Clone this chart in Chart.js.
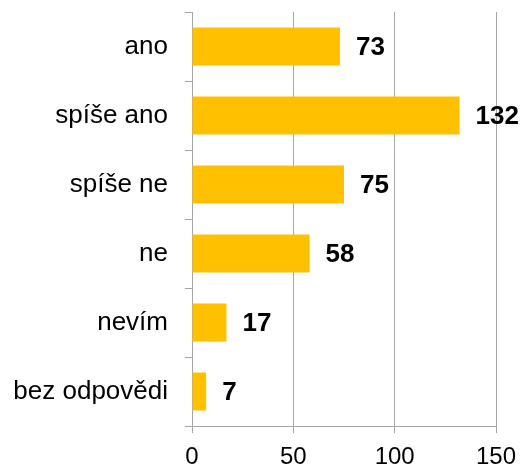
<!DOCTYPE html>
<html>
<head>
<meta charset="utf-8">
<script src="https://cdn.jsdelivr.net/npm/chart.js@4/dist/chart.umd.min.js"></script>
<style>
  html, body { margin: 0; padding: 0; background: #fff; }
  #wrap { width: 522px; height: 470px; position: relative; }
</style>
</head>
<body>
<div id="wrap"><canvas id="c"></canvas></div>
<script>
const categories = ['ano', 'spíše ano', 'spíše ne', 'ne', 'nevím', 'bez odpovědi'];
const counts = [73, 132, 75, 58, 17, 7];
const xTicks = [0, 50, 100, 150];

const barColor = '#FFC000';
const gridColor = '#a6a6a6';
const fontFam = '"Liberation Sans", Arial, sans-serif';

// value labels next to each bar
const valueLabels = {
    id: 'valueLabels',
    afterDatasetsDraw(chart) {
        const ctx = chart.ctx;
        const meta = chart.getDatasetMeta(0);
        ctx.save();
        ctx.font = 'bold 26px ' + fontFam;
        ctx.fillStyle = '#000';
        ctx.textBaseline = 'middle';
        ctx.textAlign = 'left';
        meta.data.forEach((bar, i) => {
            ctx.fillText(String(counts[i]), bar.x + 16, bar.y + 1);
        });
        ctx.restore();
    }
};

new Chart(document.getElementById('c'), {
    type: 'bar',
    data: {
        labels: categories,
        datasets: [{
            data: counts,
            backgroundColor: barColor,
            borderWidth: 0,
            barPercentage: 0.55,
            categoryPercentage: 1,
        }]
    },
    options: {
        indexAxis: 'y',
        responsive: true,
        maintainAspectRatio: false,
        animation: false,
        layout: { padding: { top: 12, right: 26, left: 0, bottom: 0 } },
        plugins: { legend: { display: false }, tooltip: { enabled: false } },
        scales: {
            x: {
                min: 0, max: 150,
                afterBuildTicks: s => { s.ticks = xTicks.map(v => ({ value: v })); },
                grid: { color: gridColor, lineWidth: 1, tickLength: 7 },
                border: { color: gridColor },
                ticks: { color: '#000', padding: 10, font: { size: 24, family: fontFam } },
                afterFit: s => { s.height = 44; s.paddingLeft = 0; s.paddingRight = 0; },
            },
            y: {
                grid: { drawOnChartArea: false, offset: true, color: gridColor, tickLength: 7 },
                border: { color: gridColor },
                ticks: { color: '#000', padding: 17, font: { size: 26, family: fontFam } },
                afterFit: s => { s.width = 192; s.paddingTop = 0; s.paddingBottom = 0; },
            }
        }
    },
    plugins: [valueLabels]
});
</script>
</body>
</html>
